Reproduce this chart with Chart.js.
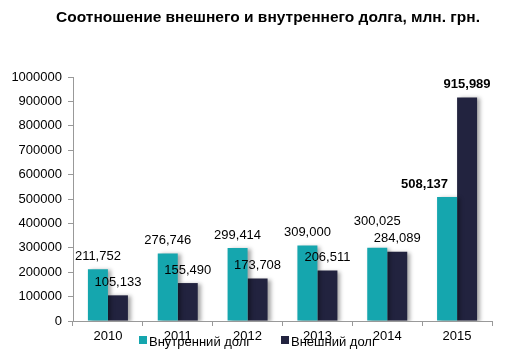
<!DOCTYPE html>
<html><head><meta charset="utf-8">
<script src="https://cdn.jsdelivr.net/npm/chart.js@4/dist/chart.umd.min.js"></script>
<style>html,body{margin:0;padding:0;background:#fff}#wrap{width:512px;height:359px}</style>
</head><body><div id="wrap"><canvas id="c" width="512" height="359"></canvas></div>
<script>
const categories = ['2010','2011','2012','2013','2014','2015'];
const domesticDebt = [211752, 276746, 299414, 309000, 300025, 508137];
const externalDebt = [105133, 155490, 173708, 206511, 284089, 915989];
const seriesNames = ['Внутренний долг', 'Внешний долг'];
const colors = ['#15A6AE', '#22233F'];
const titleText = 'Соотношение внешнего и внутреннего долга, млн. грн.';
const FONT = '"Liberation Sans", Arial, sans-serif';

function fmt(v){ return v.toLocaleString('en-US'); }

const shadowPlugin = {
  id: 'shadow',
  beforeDatasetsDraw(chart){
    const ctx = chart.ctx; ctx.save();
    ctx.shadowColor = 'rgba(0,0,0,0.35)';
    ctx.shadowBlur = 4; ctx.shadowOffsetX = 3; ctx.shadowOffsetY = 1;
  },
  afterDatasetsDraw(chart){ chart.ctx.restore(); }
};

const labelPlugin = {
  id: 'labels',
  afterDatasetsDraw(chart){
    const ctx = chart.ctx;
    const m0 = chart.getDatasetMeta(0), m1 = chart.getDatasetMeta(1);
    ctx.save();
    ctx.fillStyle = '#000'; ctx.textBaseline = 'middle';
    const last = categories.length - 1;
    for (let i = 0; i < categories.length; i++) {
      ctx.font = (i === last ? 'bold ' : '') + '13px ' + FONT;
      const e0 = m0.data[i], e1 = m1.data[i];
      const t0 = fmt(domesticDebt[i]), t1 = fmt(externalDebt[i]);
      let y0 = e0.y - 13, y1 = e1.y - 13;
      const w0 = ctx.measureText(t0).width, w1 = ctx.measureText(t1).width;
      const hOverlap = Math.abs(e0.x - e1.x) < (w0 + w1) / 2;
      let x0 = e0.x, a0 = 'center';
      if (e1.y < y0 - 8) {
        x0 = e0.x + 1; a0 = 'right';
      } else if (hOverlap && Math.abs(y0 - y1) < 16) { y0 = y1 - 17; }
      ctx.textAlign = a0; ctx.fillText(t0, x0, y0);
      ctx.textAlign = 'center'; ctx.fillText(t1, e1.x, y1);
    }
    ctx.restore();
  }
};

const titleLegendPlugin = {
  id: 'titleLegend',
  afterDraw(chart){
    const ctx = chart.ctx;
    ctx.save();
    ctx.fillStyle = '#000'; ctx.textBaseline = 'middle'; ctx.textAlign = 'center';
    ctx.font = 'bold 15.5px ' + FONT;
    ctx.fillText(titleText, 268, 18);
    ctx.textAlign = 'left';
    ctx.font = '13px ' + FONT;
    const xs = [139, 281];
    seriesNames.forEach((n, i) => {
      ctx.fillStyle = colors[i];
      ctx.fillRect(xs[i], 336, 8, 8);
      ctx.fillStyle = '#000';
      ctx.fillText(n, xs[i] + 10, 342);
    });
    ctx.restore();
  }
};

new Chart(document.getElementById('c'), {
  type: 'bar',
  data: {
    labels: categories,
    datasets: [
      { label: seriesNames[0], data: domesticDebt, backgroundColor: colors[0] },
      { label: seriesNames[1], data: externalDebt, backgroundColor: colors[1] }
    ]
  },
  options: {
    responsive: false, animation: false,
    layout: { padding: { left: 0, right: 20, top: 77, bottom: 0 } },
    datasets: { bar: { categoryPercentage: 0.573, barPercentage: 1 } },
    plugins: {
      legend: { display: false },
      tooltip: { enabled: false },
      title: { display: false }
    },
    scales: {
      x: {
        grid: { display: true, drawOnChartArea: false, drawTicks: true, tickLength: 5, color: '#999', offset: true },
        border: { color: '#999' },
        ticks: { color: '#000', font: { family: FONT, size: 13 }, padding: 3 },
        afterFit(s){ s.height = 38; }
      },
      y: {
        min: 0, max: 1000000,
        grid: { display: true, drawOnChartArea: false, drawTicks: true, tickLength: 5, color: '#999' },
        border: { color: '#999' },
        ticks: { stepSize: 100000, color: '#000', font: { family: FONT, size: 13 }, padding: 6,
          callback: v => String(v) },
        afterFit(s){ s.width = 73; }
      }
    }
  },
  plugins: [shadowPlugin, labelPlugin, titleLegendPlugin]
});
</script></body></html>
